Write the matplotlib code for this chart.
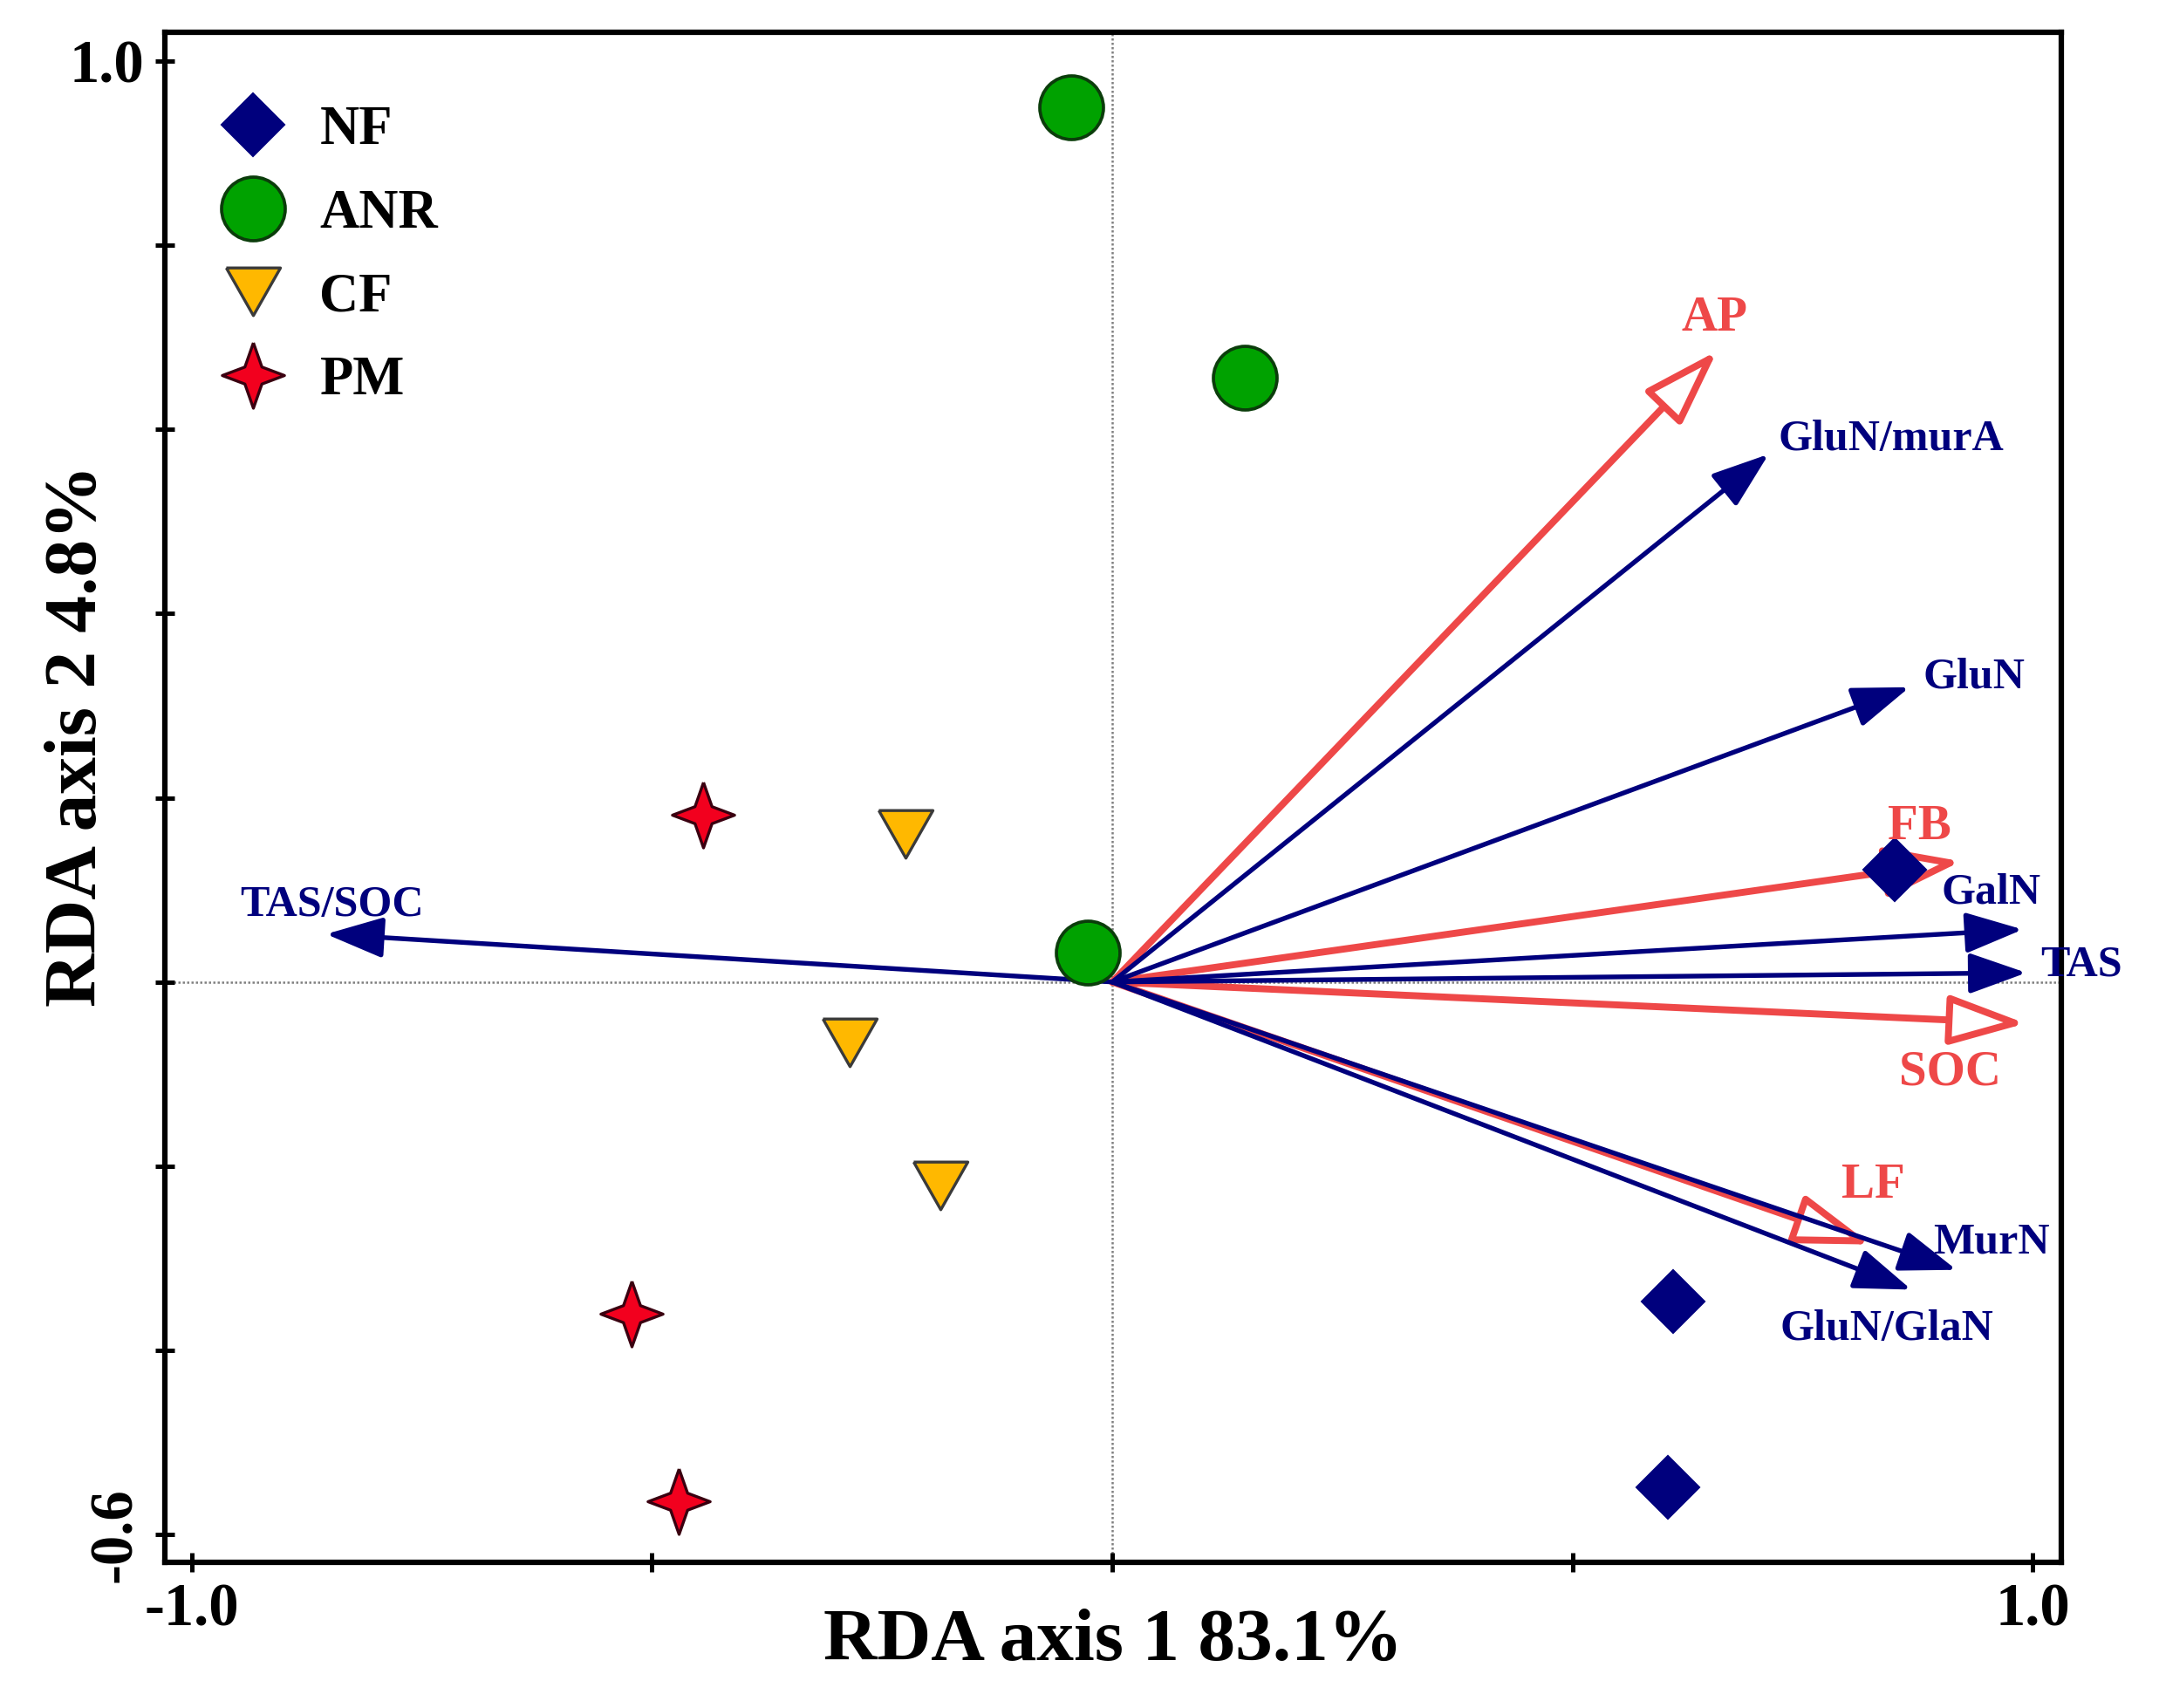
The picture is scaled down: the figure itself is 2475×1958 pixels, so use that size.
import matplotlib
matplotlib.use('Agg')
import matplotlib.pyplot as plt
from matplotlib.path import Path

plt.rcParams['font.family'] = ['Liberation Serif', 'DejaVu Serif']
plt.rcParams['font.weight'] = 'bold'
plt.rcParams['axes.labelweight'] = 'bold'

# sample scores (RDA axis 1, RDA axis 2)
nf_x = [0.850, 0.609, 0.604]
nf_y = [0.122, -0.347, -0.549]
anr_x = [-0.045, 0.144, -0.027]
anr_y = [0.950, 0.656, 0.032]
cf_x = [-0.225, -0.285, -0.187]
cf_y = [0.161, -0.066, -0.221]
pm_x = [-0.444, -0.522, -0.471]
pm_y = [0.182, -0.360, -0.564]

# response variables (blue arrows)
blue_names = ['GluN/murA', 'GluN', 'GalN', 'TAS', 'MurN', 'GluN/GlaN', 'TAS/SOC']
blue_x = [0.713, 0.866, 0.989, 0.993, 0.917, 0.868, -0.854]
blue_y = [0.573, 0.320, 0.057, 0.010, -0.3125, -0.334, 0.052]
blue_lab_x = [0.846, 0.936, 0.955, 1.053, 0.955, 0.841, -0.848]
blue_lab_y = [0.589, 0.331, 0.097, 0.018, -0.283, -0.377, 0.083]

# explanatory variables (red arrows)
red_names = ['AP', 'FB', 'SOC', 'LF']
red_x = [0.657, 0.922, 0.992, 0.824]
red_y = [0.685, 0.131, -0.045, -0.285]
red_lab_x = [0.654, 0.877, 0.910, 0.827]
red_lab_y = [0.720, 0.168, -0.098, -0.221]

xtick_vals = [-1.0, -0.5, 0.0, 0.5, 1.0]
xtick_labels = ['-1.0', '', '', '', '1.0']
ytick_vals = [-0.6, -0.4, -0.2, 0.0, 0.2, 0.4, 0.6, 0.8, 1.0]
ytick_labels = ['-0.6', '', '', '', '', '', '', '', '1.0']

navy = '#00007d'
red = '#ee4848'

star = Path([(0, 1), (0.26, 0.26), (0.95, 0), (0.26, -0.26), (0, -1),
             (-0.26, -0.26), (-0.95, 0), (-0.26, 0.26), (0, 1)])
tri_down = Path([(-1, 0.88), (1, 0.88), (0, -0.88), (-1, 0.88)])

fig = plt.figure(figsize=(8.25, 6.5267), dpi=300)
ax = fig.add_axes([0.0764, 0.0853, 0.8784, 0.8958])

ax.axhline(0, color='#808080', lw=0.6, ls=(0, (1, 1)), zorder=1)
ax.axvline(0, color='#808080', lw=0.6, ls=(0, (1, 1)), zorder=1)

# red arrows, hollow heads
for i in range(len(red_names)):
    ax.annotate('', xy=(red_x[i], red_y[i]), xytext=(0, 0), annotation_clip=False,
                arrowprops=dict(arrowstyle='-|>,head_length=18,head_width=5.9',
                                mutation_scale=1, lw=1.9, ec=red, fc='white',
                                shrinkA=0, shrinkB=0), zorder=2)
    ax.text(red_lab_x[i], red_lab_y[i], red_names[i], color=red, fontsize=13.7,
            ha='center', va='center', zorder=5)

# blue arrows, filled heads
for i in range(len(blue_names)):
    ax.annotate('', xy=(blue_x[i], blue_y[i]), xytext=(0, 0), annotation_clip=False,
                arrowprops=dict(arrowstyle='-|>,head_length=13.5,head_width=4.8',
                                mutation_scale=1, lw=1.3, color=navy,
                                shrinkA=0, shrinkB=0), zorder=3)
    ax.text(blue_lab_x[i], blue_lab_y[i], blue_names[i], color=navy, fontsize=12,
            ha='center', va='center', zorder=5, clip_on=False)

ax.plot(nf_x, nf_y, ls='none', marker='D', ms=12.2, mfc=navy, mec=navy, mew=0.5,
        label='NF', zorder=4)
ax.plot(anr_x, anr_y, ls='none', marker='o', ms=17.5, mfc='#00a200', mec='#0b3d0b', mew=0.9,
        label='ANR', zorder=4)
ax.plot(cf_x, cf_y, ls='none', marker=tri_down, ms=14.9, mfc='#ffb800', mec='#3a3a3a', mew=0.8,
        label='CF', zorder=4)
ax.plot(pm_x, pm_y, ls='none', marker=star, ms=18, mfc='#f2001e', mec='#3a0010', mew=0.8,
        label='PM', zorder=4)

ax.set_xlim(-1.029, 1.031)
ax.set_ylim(-0.630, 1.031)

ax.set_xticks(xtick_vals)
ax.set_xticklabels(xtick_labels)
ax.set_yticks(ytick_vals)
ax.set_yticklabels(ytick_labels)
ax.get_yticklabels()[0].set_rotation(90)
ax.get_yticklabels()[0].set_va('center')
ax.tick_params(direction='inout', length=5.5, width=1.2, labelsize=16.5, pad=3)

for s in ax.spines.values():
    s.set_linewidth(1.5)

ax.set_xlabel('RDA axis 1 83.1%', fontsize=20.5, fontweight='bold')
ax.set_ylabel('RDA axis 2 4.8%', fontsize=20.5, fontweight='bold')
ax.xaxis.set_label_coords(0.5, -0.030)
ax.yaxis.set_label_coords(-0.028, 0.5405)

ax.legend(loc='upper left', bbox_to_anchor=(0.0235, 0.952), frameon=False, fontsize=15,
          handlelength=1.6, handletextpad=0.42, labelspacing=0.6, borderpad=0,
          borderaxespad=0, numpoints=1)

fig.savefig('out.png', dpi=300)
